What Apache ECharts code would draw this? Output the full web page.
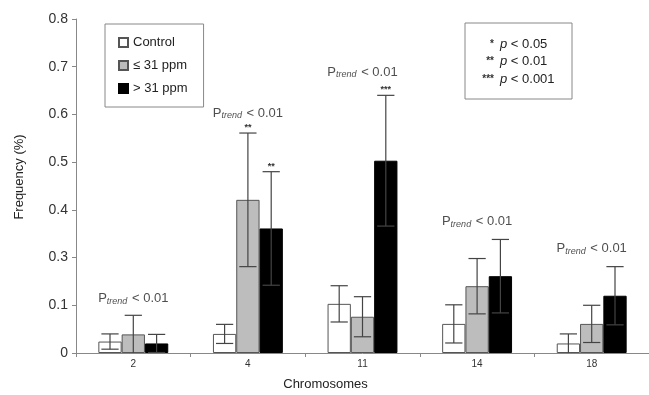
<!DOCTYPE html>
<html>
<head>
<meta charset="utf-8">
<script src="https://cdn.jsdelivr.net/npm/echarts@6/dist/echarts.min.js"></script>
<style>
  html, body { margin: 0; padding: 0; background: #fff; }
  #container { width: 649px; height: 395px; }
</style>
</head>
<body>
<div id="container"></div>
<script type="text/javascript">
// chromosomes on the x axis
var chromosomes = ['2', '4', '11', '14', '18'];
var seriesNames = ['Control', '\u2264 31 ppm', '> 31 ppm'];

// mean frequency (in axis units) and SD
var controlMean = [0.024, 0.040, 0.103, 0.061, 0.020];
var controlSd   = [0.016, 0.020, 0.038, 0.040, 0.020];
var lowMean     = [0.039, 0.321, 0.076, 0.140, 0.061];
var lowSd       = [0.040, 0.140, 0.042, 0.058, 0.039];
var highMean    = [0.020, 0.261, 0.403, 0.161, 0.120];
var highSd      = [0.019, 0.119, 0.137, 0.077, 0.061];

// significance marks over each bar
var controlMarks = ['', '', '', '', ''];
var lowMarks     = ['', '**', '', '', ''];
var highMarks    = ['', '**', '***', '', ''];

// y tick labels as printed (the figure skips 0.2)
var tickLabels = ['0', '0.1', '0.3', '0.4', '0.5', '0.6', '0.7', '0.8'];

// where the P-trend note sits over each group
var trendLabelY = [0.115, 0.503, 0.589, 0.275, 0.220];

var font = 'Liberation Sans, Arial, sans-serif';
var gapPct = 39;

var means = [controlMean, lowMean, highMean];
var sds = [controlSd, lowSd, highSd];
var marks = [controlMarks, lowMarks, highMarks];

var errData = [], errMarks = [];
for (var s = 0; s < 3; s++) {
    for (var i = 0; i < chromosomes.length; i++) {
        errData.push([i, s, means[s][i], sds[s][i]]);
        errMarks.push(marks[s][i]);
    }
}

var trendData = [];
for (var i = 0; i < chromosomes.length; i++) trendData.push([i, trendLabelY[i]]);

var barStyles = [
    { color: '#ffffff', borderColor: '#555', borderWidth: 1 },
    { color: '#bdbdbd', borderColor: '#555', borderWidth: 1 },
    { color: '#000000', borderColor: '#000', borderWidth: 1 }
];

// significance key, drawn as plain text rows
var keyStars = ['*', '**', '***'];
var keyText = [' < 0.05', ' < 0.01', ' < 0.001'];
var keyGraphics = [{
    type: 'rect',
    x: 465, y: 23,
    shape: { width: 107, height: 76 },
    style: { fill: '#fff', stroke: '#888', lineWidth: 1 }
}];
for (var k = 0; k < 3; k++) {
    keyGraphics.push({
        type: 'text', x: 494, y: 44 + k * 17.5,
        style: { text: keyStars[k], align: 'right', verticalAlign: 'middle', fontSize: 10, fontWeight: 'bold', fill: '#333', fontFamily: font }
    });
    keyGraphics.push({
        type: 'text', x: 500, y: 44 + k * 17.5,
        style: {
            text: '{i|p}{n|' + keyText[k] + '}',
            rich: {
                i: { fontStyle: 'italic', fontSize: 13, fill: '#222', fontFamily: font },
                n: { fontSize: 13, fill: '#222', fontFamily: font }
            },
            verticalAlign: 'middle'
        }
    });
}

var myChart = echarts.init(document.getElementById('container'));

var option = {
    animation: false,
    backgroundColor: '#fff',
    textStyle: { fontFamily: font },
    grid: { left: 76, right: 0, top: 19, bottom: 42, outerBoundsMode: 'none' },
    legend: {
        data: seriesNames,
        orient: 'vertical',
        left: 105,
        top: 24,
        itemWidth: 9,
        itemHeight: 9,
        itemGap: 10,
        padding: [12, 16, 12, 13],
        borderColor: '#888',
        borderWidth: 1,
        icon: 'rect',
        textStyle: { fontSize: 13, color: '#222', fontFamily: font }
    },
    xAxis: {
        type: 'category',
        data: chromosomes,
        name: 'Chromosomes',
        nameLocation: 'middle',
        nameGap: 25,
        nameTextStyle: { fontSize: 13, color: '#222', fontFamily: font, padding: [0, 74, 0, 0] },
        axisLine: { lineStyle: { color: '#888' } },
        axisTick: { show: true, length: 4, lineStyle: { color: '#888' } },
        axisLabel: { fontSize: 10, color: '#333', margin: 6 }
    },
    yAxis: {
        type: 'value',
        min: 0,
        max: 0.7,
        interval: 0.1,
        name: 'Frequency (%)',
        nameLocation: 'middle',
        nameGap: 50,
        nameTextStyle: { fontSize: 13, color: '#222', fontFamily: font, padding: [0, 0, 0, 18] },
        splitLine: { show: false },
        axisLine: { show: true, lineStyle: { color: '#888' } },
        axisTick: { show: true, length: 4, lineStyle: { color: '#888' } },
        axisLabel: {
            fontSize: 14,
            color: '#333',
            margin: 8,
            formatter: function (v) {
                return tickLabels[Math.round(v * 10)];
            }
        }
    },
    series: [
        {
            name: seriesNames[0], type: 'bar', data: controlMean,
            barGap: 0, barCategoryGap: gapPct + '%', itemStyle: barStyles[0]
        },
        {
            name: seriesNames[1], type: 'bar', data: lowMean,
            barGap: 0, barCategoryGap: gapPct + '%', itemStyle: barStyles[1]
        },
        {
            name: seriesNames[2], type: 'bar', data: highMean,
            barGap: 0, barCategoryGap: gapPct + '%', itemStyle: barStyles[2]
        },
        {
            // error bars + significance marks
            type: 'custom',
            data: errData,
            z: 10,
            renderItem: function (params, api) {
                var cat = api.value(0), s = api.value(1);
                var m = api.value(2), sd = api.value(3);
                var band = api.size([1, 0])[0];
                var barW = band * (1 - gapPct / 100) / 3;
                var cx = api.coord([cat, 0])[0] + (s - 1) * barW;
                var yTop = api.coord([cat, m + sd])[1];
                var yLow = api.coord([cat, Math.max(0, m - sd)])[1];
                var half = barW * 0.37;
                var st = { stroke: '#444', lineWidth: 1.2 };
                var kids = [
                    { type: 'line', shape: { x1: cx, y1: yLow, x2: cx, y2: yTop }, style: st },
                    { type: 'line', shape: { x1: cx - half, y1: yTop, x2: cx + half, y2: yTop }, style: st }
                ];
                if (m - sd > 0) {
                    kids.push({ type: 'line', shape: { x1: cx - half, y1: yLow, x2: cx + half, y2: yLow }, style: st });
                }
                var mk = errMarks[params.dataIndex];
                if (mk) {
                    kids.push({
                        type: 'text',
                        style: {
                            text: mk, x: cx, y: yTop - 1,
                            align: 'center', verticalAlign: 'bottom',
                            fontSize: 9, fontWeight: 'bold', fill: '#333', fontFamily: font
                        }
                    });
                }
                return { type: 'group', children: kids };
            }
        },
        {
            // P trend notes
            type: 'scatter',
            data: trendData,
            symbolSize: 0,
            silent: true,
            z: 11,
            label: {
                show: true,
                position: 'inside',
                formatter: '{p|P}{t|trend}{p| < 0.01}',
                rich: {
                    p: { fontSize: 13, color: '#222', fontFamily: font, lineHeight: 15, verticalAlign: 'middle' },
                    t: { fontSize: 9, fontStyle: 'italic', color: '#222', fontFamily: font, lineHeight: 15, verticalAlign: 'bottom', padding: [4, 1, 0, 0] }
                }
            }
        }
    ],
    graphic: keyGraphics
};

if (option && typeof option === 'object') {
    myChart.setOption(option);
}
</script>
</body>
</html>
